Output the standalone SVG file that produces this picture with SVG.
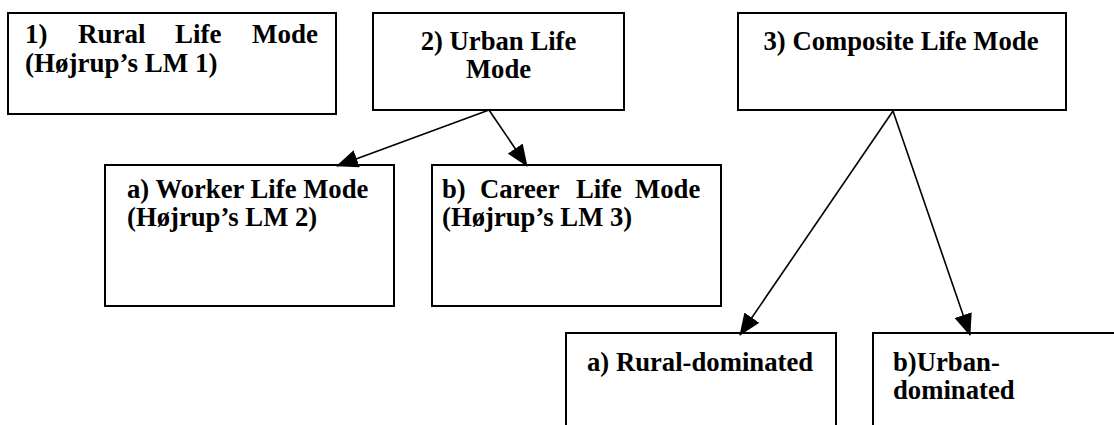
<svg xmlns="http://www.w3.org/2000/svg" width="1114" height="425" viewBox="0 0 1114 425">
  <style>
    .box { fill: #ffffff; stroke: #000000; stroke-width: 2; }
    .lbl { font-family: "Liberation Serif", "Times New Roman", serif; font-weight: bold; font-size: 26.7px; fill: #000000; }
    .big { font-size: 27px; }
    .mid { text-anchor: middle; }
    .edge { fill: none; stroke: #000000; stroke-width: 1.6; marker-end: url(#head); }
  </style>
  <defs>
    <marker id="head" markerUnits="userSpaceOnUse" markerWidth="22" markerHeight="18" viewBox="0 0 22 18" refX="21" refY="9" orient="auto">
      <path d="M0,0 L22,9 L0,18 Z" fill="#000000"/>
    </marker>
  </defs>
  <rect width="1114" height="425" fill="#ffffff"/>

  <!-- top row -->
  <g id="rural-life-mode">
    <rect class="box" x="8" y="13" width="328" height="101"/>
    <!-- justified first line: words placed one by one -->
    <text class="lbl big" y="43"><tspan x="25">1)</tspan><tspan x="78">Rural</tspan><tspan x="175">Life</tspan><tspan x="252">Mode</tspan></text>
    <text class="lbl big" x="25" y="72">(Højrup’s LM 1)</text>
  </g>

  <g id="urban-life-mode">
    <rect class="box" x="373" y="13" width="251" height="97"/>
    <text class="lbl mid" x="498.5" y="50">2) Urban Life</text>
    <text class="lbl mid" x="498.5" y="78">Mode</text>
  </g>

  <g id="composite-life-mode">
    <rect class="box" x="738" y="13" width="328" height="97"/>
    <text class="lbl mid" x="901" y="50">3) Composite Life Mode</text>
  </g>

  <!-- second row -->
  <g id="worker-life-mode">
    <rect class="box" x="105" y="165" width="289" height="141"/>
    <text class="lbl" x="127" y="198">a) Worker Life Mode</text>
    <text class="lbl" x="127" y="226">(Højrup’s LM 2)</text>
  </g>

  <g id="career-life-mode">
    <rect class="box" x="432" y="165" width="289" height="141"/>
    <text class="lbl" y="198"><tspan x="442">b)</tspan><tspan x="480">Career</tspan><tspan x="576">Life</tspan><tspan x="635">Mode</tspan></text>
    <text class="lbl" x="442" y="226">(Højrup’s LM 3)</text>
  </g>

  <!-- third row -->
  <g id="rural-dominated">
    <rect class="box" x="566" y="333" width="270" height="110"/>
    <text class="lbl" x="587" y="371">a) Rural-dominated</text>
  </g>

  <g id="urban-dominated">
    <rect class="box" x="873" y="333" width="280" height="110"/>
    <text class="lbl" x="893" y="371">b)Urban-</text>
    <text class="lbl" x="893" y="399">dominated</text>
  </g>

  <g id="connectors">
    <line class="edge" x1="489" y1="110" x2="337" y2="166"/>
    <line class="edge" x1="489" y1="110" x2="527" y2="166"/>
    <line class="edge" x1="893" y1="111" x2="740" y2="335"/>
    <line class="edge" x1="893" y1="111" x2="970" y2="335"/>
  </g>
</svg>
